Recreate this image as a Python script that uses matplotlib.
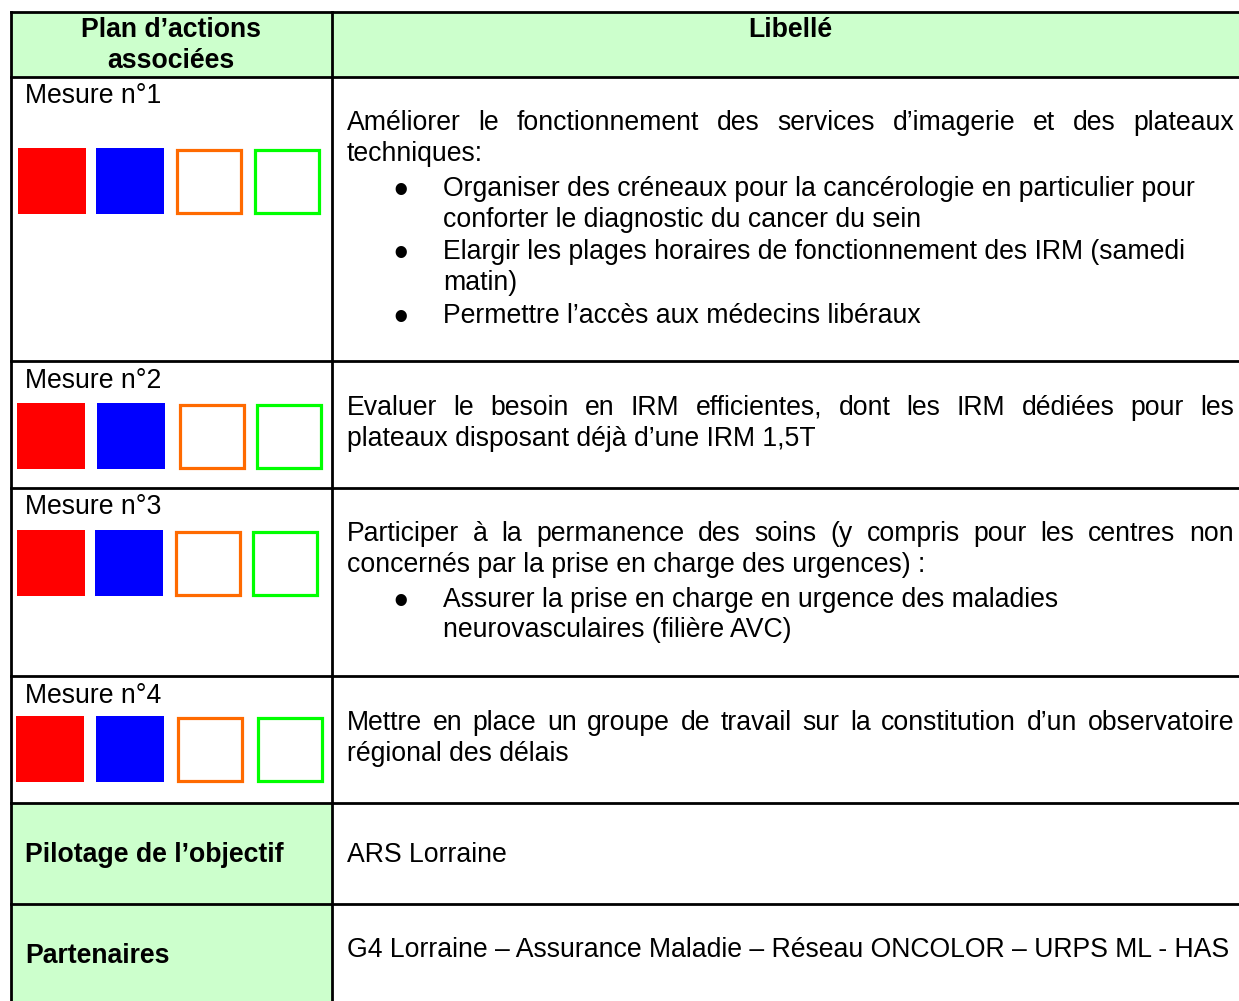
import matplotlib
matplotlib.use("Agg")
import matplotlib.pyplot as plt
from matplotlib.patches import Rectangle

plt.rcParams['font.family'] = ['Liberation Sans', 'DejaVu Sans']

# ---------------- data ----------------
header_left = ["Plan d\u2019actions", "associ\u00e9es"]
header_right = "Libell\u00e9"

mesure_labels = ["Mesure n\u00b01", "Mesure n\u00b02", "Mesure n\u00b03", "Mesure n\u00b04"]

# each description: list of (kind, text) ; kind: 'just' justified line, 'left' plain line,
# 'bullet' first line of bullet item, 'cont' continuation of bullet item
desc_1 = [("just", "Am\u00e9liorer le fonctionnement des services d\u2019imagerie et des plateaux"),
          ("left", "techniques:"),
          ("bullet", "Organiser des cr\u00e9neaux pour la canc\u00e9rologie en particulier pour"),
          ("cont", "conforter le diagnostic du cancer du sein"),
          ("bullet", "Elargir les plages horaires de fonctionnement des IRM (samedi"),
          ("cont", "matin)"),
          ("bullet", "Permettre l\u2019acc\u00e8s aux m\u00e9decins lib\u00e9raux")]
desc_2 = [("just", "Evaluer le besoin en IRM efficientes, dont les IRM d\u00e9di\u00e9es pour les"),
          ("left", "plateaux disposant d\u00e9j\u00e0 d\u2019une IRM 1,5T")]
desc_3 = [("just", "Participer \u00e0 la permanence des soins (y compris pour les centres non"),
          ("left", "concern\u00e9s par la prise en charge des urgences) :"),
          ("bullet", "Assurer la prise en charge en urgence des maladies"),
          ("cont", "neurovasculaires (fili\u00e8re AVC)")]
desc_4 = [("just", "Mettre en place un groupe de travail sur la constitution d\u2019un observatoire"),
          ("left", "r\u00e9gional des d\u00e9lais")]
descriptions = [desc_1, desc_2, desc_3, desc_4]

square_colors = ["#FF0000", "#0000FF", "#FF6A00", "#00FF00"]
square_filled = [True, True, False, False]

footer_labels = ["Pilotage de l\u2019objectif", "Partenaires"]
footer_values = ["ARS Lorraine",
                 "G4 Lorraine \u2013 Assurance Maladie \u2013 R\u00e9seau ONCOLOR \u2013 URPS ML - HAS"]

# ---------------- layout (pixels) ----------------
W, H = 1239, 1001
fig = plt.figure(figsize=(W / 100, H / 100), dpi=100)
ax = fig.add_axes([0, 0, 1, 1])
ax.set_xlim(0, W)
ax.set_ylim(H, 0)
ax.axis('off')

green = "#CCFFCC"
x_left, x_mid, x_right = 11, 332, W + 5
row_lines = [12, 77, 361, 488, 676, 803, 904]
FS = 19.2

# fills
ax.add_patch(Rectangle((x_left, row_lines[0]), x_right - x_left, row_lines[1] - row_lines[0],
                       facecolor=green, edgecolor='none', zorder=0))
ax.add_patch(Rectangle((x_left, row_lines[5]), x_mid - x_left, H - row_lines[5] + 5,
                       facecolor=green, edgecolor='none', zorder=0))

# grid lines
lw = 2.0
for y in row_lines:
    ax.plot([x_left, x_right], [y, y], color='black', lw=lw, solid_capstyle='projecting', zorder=5)
for x in [x_left, x_mid]:
    ax.plot([x, x], [row_lines[0], H + 5], color='black', lw=lw, solid_capstyle='projecting', zorder=5)

# header
ax.text(171, 37, header_left[0], fontsize=FS, fontweight='bold', ha='center', va='baseline')
ax.text(171, 68, header_left[1], fontsize=FS, fontweight='bold', ha='center', va='baseline')
ax.text(790, 37, header_right, fontsize=FS, fontweight='bold', ha='center', va='baseline')

renderer = fig.canvas.get_renderer()


def text_width(s, **kw):
    t = ax.text(0, 0, s, fontsize=FS, **kw)
    w = t.get_window_extent(renderer).width
    t.remove()
    return w


def justified(line, x0, x1, y):
    words = line.split(" ")
    widths = [text_width(w) for w in words]
    gap = (x1 - x0 - sum(widths)) / (len(words) - 1)
    x = x0
    for w, wd in zip(words, widths):
        ax.text(x, y, w, fontsize=FS, ha='left', va='baseline')
        x += wd + gap


# mesure rows
label_baselines = [103, 388, 514, 703]
desc_baselines = [[130, 161, 196, 227, 259, 290, 323],
                  [415, 446],
                  [541, 572, 607, 637],
                  [730, 761]]
square_tops = [148, 403, 530, 716]
square_x = [[18, 96, 175, 253], [17, 97, 178, 255], [17, 95, 174, 251], [16, 96, 176, 256]]
sq = 66
sq_lw = 2.3
text_x0, text_x1 = 347, 1234
bullet_x, bullet_text_x = 401, 443

for i, label in enumerate(mesure_labels):
    ax.text(25, label_baselines[i], label, fontsize=FS, ha='left', va='baseline')
    for j in range(4):
        x = square_x[i][j]
        y = square_tops[i]
        if square_filled[j]:
            ax.add_patch(Rectangle((x, y), sq + 2, sq, facecolor=square_colors[j],
                                   edgecolor='none', zorder=2))
        else:
            ax.add_patch(Rectangle((x + 1.5, y + 1.5), sq - 2, sq - 3, facecolor='white',
                                   edgecolor=square_colors[j], lw=sq_lw, zorder=2))
    for (kind, line), yb in zip(descriptions[i], desc_baselines[i]):
        if kind == 'just':
            justified(line, text_x0, text_x1, yb)
        elif kind == 'left':
            ax.text(text_x0, yb, line, fontsize=FS, ha='left', va='baseline')
        elif kind == 'bullet':
            ax.text(bullet_x, yb + 7, "\u2022", fontsize=30, ha='center', va='baseline')
            ax.text(bullet_text_x, yb, line, fontsize=FS, ha='left', va='baseline')
        else:
            ax.text(bullet_text_x, yb, line, fontsize=FS, ha='left', va='baseline')

# footer rows
footer_label_baselines = [862, 963]
footer_value_baselines = [862, 957]
for lab, val, yl, yv in zip(footer_labels, footer_values, footer_label_baselines, footer_value_baselines):
    ax.text(25, yl, lab, fontsize=FS, fontweight='bold', ha='left', va='baseline')
    ax.text(text_x0, yv, val, fontsize=FS, ha='left', va='baseline')

fig.savefig("out.png", dpi=100, facecolor='white')
